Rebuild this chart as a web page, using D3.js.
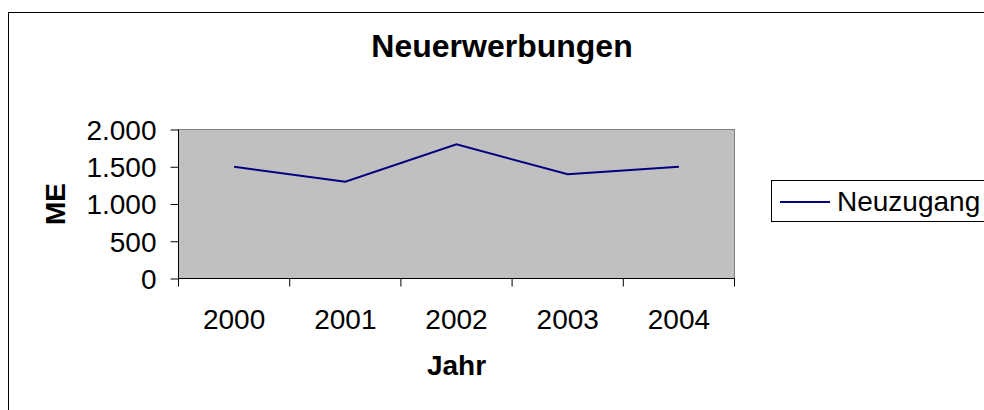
<!DOCTYPE html>
<html>
<head>
<meta charset="utf-8">
<script src="https://cdn.jsdelivr.net/npm/d3@7"></script>
<style>
  html, body { margin: 0; padding: 0; background: #fff; }
  svg { display: block; font-family: "Liberation Sans", Arial, sans-serif; }
</style>
</head>
<body>
<svg id="chart" width="984" height="410"></svg>
<script>
/* Neuerwerbungen — line chart in the old spreadsheet style. */

const years = ["2000", "2001", "2002", "2003", "2004"];
const neuzugang = [1500, 1300, 1800, 1400, 1500];
const yTicks = [0, 500, 1000, 1500, 2000];

const svg = d3.select("#chart");
const plot = { left: 178.5, top: 129.5, right: 734.5, bottom: 278.5 };
const FS = 28;

// outer chart border (runs off the right and bottom edge)
svg.append("rect")
  .attr("x", 8.5).attr("y", 12.5)
  .attr("width", 1000).attr("height", 420)
  .attr("fill", "#fff").attr("stroke", "#000");

const x = d3.scaleBand().domain(years).range([plot.left, plot.right]);
const y = d3.scaleLinear().domain([0, 2000]).range([plot.bottom, plot.top]);

// plot area
svg.append("rect")
  .attr("x", plot.left).attr("y", plot.top)
  .attr("width", plot.right - plot.left).attr("height", plot.bottom - plot.top)
  .attr("fill", "#c0c0c0").attr("stroke", "#808080");

// y axis
const yAxis = svg.append("g")
  .attr("transform", `translate(${plot.left},0)`)
  .call(d3.axisLeft(y).tickValues(yTicks).tickSize(8).tickPadding(14)
    .tickFormat((d) => d3.format(",")(d).replace(/,/g, ".")));

// x axis with ticks on the band boundaries
const xAxis = svg.append("g")
  .attr("transform", `translate(0,${plot.bottom})`)
  .call(d3.axisBottom(x).tickSize(0));
xAxis.selectAll(".tick").selectAll("line").remove();
xAxis.selectAll(".tick text").attr("y", 50.5).attr("dy", 0);
xAxis.selectAll("line.bound")
  .data([...years.map((d) => x(d)), plot.right])
  .join("line")
  .attr("class", "bound")
  .attr("x1", (d) => d).attr("x2", (d) => d)
  .attr("y1", 0).attr("y2", 8)
  .attr("stroke", "#000");

[yAxis, xAxis].forEach((a) => {
  a.select(".domain").attr("stroke", "#000");
  a.selectAll("text").attr("font-size", FS).attr("fill", "#000")
    .attr("font-family", "Liberation Sans, Arial, sans-serif");
  a.selectAll(".tick line").attr("stroke", "#000");
});
yAxis.select(".domain").attr("d", `M0,${plot.top}V${plot.bottom}`);
xAxis.select(".domain").attr("d", `M${plot.left},0H${plot.right}`);
yAxis.selectAll("text").attr("dy", "0.35em");

// series line
const line = d3.line()
  .x((d, i) => x(years[i]) + x.bandwidth() / 2)
  .y((d) => y(d));
svg.append("path")
  .datum(neuzugang)
  .attr("d", line)
  .attr("fill", "none")
  .attr("stroke", "#000080")
  .attr("stroke-width", 2);

// titles
svg.append("text")
  .attr("x", 502).attr("y", 57)
  .attr("text-anchor", "middle")
  .attr("font-size", 32).attr("font-weight", "bold")
  .text("Neuerwerbungen");

svg.append("text")
  .attr("x", (plot.left + plot.right) / 2).attr("y", 375)
  .attr("text-anchor", "middle")
  .attr("font-size", FS).attr("font-weight", "bold")
  .text("Jahr");

svg.append("text")
  .attr("transform", `translate(65,${(plot.top + plot.bottom) / 2}) rotate(-90)`)
  .attr("text-anchor", "middle")
  .attr("font-size", FS).attr("font-weight", "bold")
  .text("ME");

// legend
const lg = svg.append("g");
lg.append("rect")
  .attr("x", 771.5).attr("y", 180.5)
  .attr("width", 260).attr("height", 41)
  .attr("fill", "#fff").attr("stroke", "#000");
lg.append("line")
  .attr("x1", 780).attr("x2", 830)
  .attr("y1", 202).attr("y2", 202)
  .attr("stroke", "#000080").attr("stroke-width", 2);
lg.append("text")
  .attr("x", 837).attr("y", 211)
  .attr("font-size", FS)
  .text("Neuzugang");
</script>
</body>
</html>
